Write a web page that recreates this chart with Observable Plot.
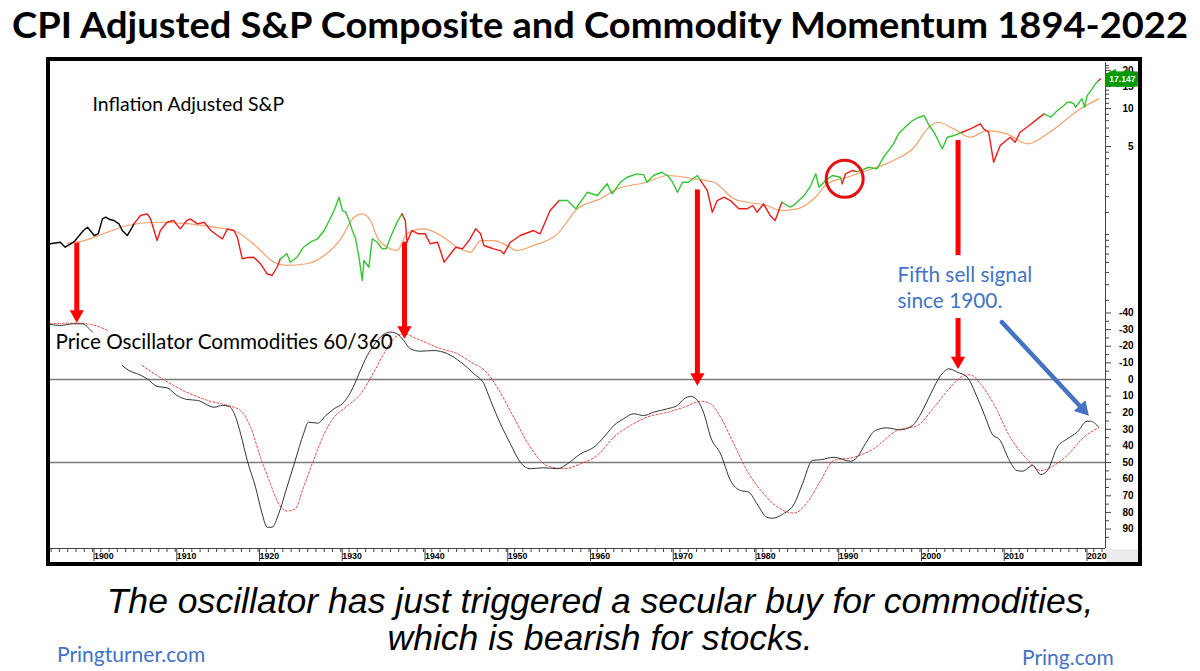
<!DOCTYPE html>
<html>
<head>
<meta charset="utf-8">
<script src="https://cdn.jsdelivr.net/npm/d3@7"></script>
<script src="https://cdn.jsdelivr.net/npm/@observablehq/plot@0.6"></script>
<style>
  html, body { margin: 0; padding: 0; background: #fff; }
  #page { position: relative; width: 1200px; height: 671px; overflow: hidden; background: #fff; }
  .abs { position: absolute; }
  #frame { position: absolute; left: 46px; top: 57px; width: 1096px; height: 509px; border: 4px solid #000; box-sizing: border-box; z-index: 5; pointer-events: none; }
  #corner { position: absolute; left: 1106px; top: 549px; width: 32px; height: 13px; background: #ececec; z-index: 0; }
  #caption { position: absolute; left: 0; top: 583px; width: 1200px; text-align: center; font-family: "Liberation Sans", Arial, sans-serif; font-style: italic; font-size: 35.6px; line-height: 37px; color: #000; }
  .site { position: absolute; font-family: Lato, "Open Sans", sans-serif; font-size: 21px; color: #4472c4; line-height: 24px; }
</style>
</head>
<body>
<div id="page">
  <svg class="abs" style="left:0;top:0" width="1200" height="56">
    <text x="600" y="38" text-anchor="middle" textLength="1176" lengthAdjust="spacingAndGlyphs"
      style="font-family: Lato, 'Open Sans', sans-serif; font-weight: 700; font-size: 36px; fill: #000;">CPI Adjusted S&amp;P Composite and Commodity Momentum 1894-2022</text>
  </svg>
  <div id="corner"></div>
  <div id="topPanel" class="abs" style="left:0;top:60px;z-index:1"></div>
  <div id="bottomPanel" class="abs" style="left:0;top:305px;z-index:1"></div>
  <div id="frame"></div>
  <div id="caption">The oscillator has just triggered a secular buy for commodities,<br>which is bearish for stocks.</div>
  <div class="site" style="left:57px;top:642px">Pringturner.com</div>
  <div class="site" style="left:1022px;top:645px">Pring.com</div>
</div>
<script>
// ---------- Data ----------
// Inflation adjusted S&P composite (log scale values)
const spYear = [1894.9,1896.1,1896.7,1897.7,1897.9,1898.9,1899.4,1900.2,1900.7,1901.2,1901.6,1902.1,1902.6,1903.2,1903.6,1904.2,1904.8,1905.0,
1905.8,1906.6,1907.0,1907.8,1908.2,1909.0,1909.8,1910.6,1911.4,1911.8,1912.7,1913.5,1914.3,1915.1,1915.7,1916.3,1917.1,1917.5,1918.1,1918.7,1919.5,1920.3,1921.1,1921.7,1922.3,1922.7,
1923.5,1923.9,1924.7,1925.5,1926.3,1927.2,1928.0,1928.8,1929.2,1929.8,1930.2,1930.6,1931.0,1931.4,1931.8,1932.2,1932.6,1932.8,1933.4,1933.8,1934.4,1935.0,1935.5,1936.0,1936.8,1937.4,
1937.8,1938.0,1938.6,1939.4,1940.2,1940.8,1941.7,1942.5,1943.1,1943.9,1944.7,1945.5,1946.3,1946.9,1947.3,1947.9,1948.5,1949.3,1949.7,1950.5,1951.7,1953.3,1954.1,1955.3,1956.4,
1957.4,1958.4,1959.8,1961.0,1962.2,1962.8,1963.8,1964.6,1965.8,1966.6,1967.0,1967.8,1968.8,1969.5,1970.1,1970.7,1971.3,1972.0,1973.1,1973.5,
1974.3,1974.9,1975.5,1976.3,1977.1,1978.1,1979.1,1979.8,1980.3,1981.1,1981.9,1982.5,1983.3,
1984.3,1984.7,1986.0,1986.8,1987.4,1987.8,1988.6,1989.4,1990.4,1990.6,
1991.0,1991.8,1992.4,
1992.8,1993.8,1994.8,1995.6,1996.8,1997.4,1998.2,1999.1,1999.9,2000.5,2001.1,2001.7,2002.7,2003.3,2004.1,2005.1,
2006.1,2007.3,2007.7,2008.3,2008.9,2009.7,2010.9,2011.5,2012.1,2013.2,2014.2,2015.0,
2015.8,2016.6,2017.4,2017.8,2018.2,2018.6,2018.8,2019.4,2019.6,2019.9,2020.2,2020.8,2021.2,2021.6,2021.8];
const spValue = [0.844,0.869,0.793,0.869,0.896,1.076,1.143,0.982,1.018,1.332,1.372,1.315,1.291,1.216,1.076,0.982,1.143,1.216,
1.415,1.460,1.340,0.896,1.076,1.252,1.291,1.110,1.291,1.332,1.216,1.252,1.076,0.982,0.925,1.110,1.076,0.952,0.641,0.657,0.660,0.586,0.488,0.473,0.550,0.641,
0.703,0.603,0.660,0.793,0.869,0.925,1.076,1.372,1.551,1.977,1.551,1.503,1.291,1.076,0.925,0.660,0.431,0.622,0.550,0.925,0.869,0.770,0.774,0.952,1.252,1.460,
1.291,0.869,1.076,1.013,1.013,0.844,0.869,0.603,0.681,0.793,0.770,0.896,1.110,1.013,0.818,0.793,0.770,0.746,0.703,0.869,0.982,1.076,1.013,1.551,1.862,
1.862,1.600,2.167,2.040,2.526,2.104,2.602,2.850,3.032,2.99,2.602,2.94,3.122,2.94,2.602,2.167,2.602,2.602,2.94,2.683,
2.234,1.503,1.862,1.977,1.862,1.600,1.600,1.70,1.503,1.753,1.415,1.291,1.805,
1.647,1.70,2.040,2.448,3.032,2.374,2.683,2.94,2.85,2.526,
3.032,3.22,3.16,
3.22,3.42,3.322,4.108,5.246,6.297,7.106,8.03,8.53,8.80,7.33,6.486,4.788,5.919,6.107,6.486,
6.902,7.561,6.902,6.486,3.748,5.085,5.919,5.40,6.486,7.33,8.285,9.08,
8.53,9.64,10.56,11.22,11.22,10.9,10.24,11.57,11.94,10.24,12.68,14.33,15.70,16.67,17.147];

// Trend colouring of the S&P line: segment start/end years and state
const trendStart = [1894.9,1905.0,1922.7,1937.4,1956.4,1973.5,1983.3,1990.6,1992.4,2005.1,2015.0,2021.6];
const trendEnd   = [1905.0,1922.7,1937.4,1956.4,1973.5,1983.3,1990.6,1992.4,2005.1,2015.0,2021.6,2021.8];
const trendState = ["none","down","up","down","up","down","up","down","up","down","up","down"];

// Long-term moving average of the S&P
const maYear = [1897.0,1898.2,1901.8,1904.2,1907.8,1911.8,1914.7,1917.5,1919.9,1921.9,1923.5,1925.9,1928.0,1930.0,1931.6,1932.6,1933.6,1934.4,1935.6,1936.8,1938.0,1940.0,1942.1,1944.1,1945.7,1946.9,1948.5,1950.1,1951.3,1953.3,1956.2,1958.6,1961.4,1963.4,1967.0,1969.5,1972.7,1975.1,1977.5,1979.1,1981.5,1983.1,1985.2,1987.2,1988.8,1991.2,1993.6,1996.8,1999.3,2000.9,2002.1,2004.1,2006.1,2008.1,2010.5,2013.0,2015.4,2019.4,2021.6];
const maValue = [0.85,0.869,1.043,1.179,1.252,1.216,1.143,1.043,0.793,0.603,0.568,0.586,0.681,0.925,1.372,1.460,1.291,0.952,0.793,0.746,1.013,1.110,0.982,0.793,0.724,0.896,0.896,0.818,0.746,0.818,1.013,1.600,1.920,2.305,2.602,2.94,2.767,2.602,1.920,1.805,1.70,1.551,1.600,1.931,2.526,2.85,3.22,3.867,4.93,6.902,7.785,6.902,5.919,6.69,6.297,5.246,6.297,9.95,11.94];

// Commodity price oscillator 60/360 (null = gap in the series)
const oscYear = [1894.9,1896.1,1897.7,1898.8,1899.6,1900.0,1901.8,
1903.6,1904.4,1905.6,1906.6,1907.8,1909.0,1910.2,1911.4,1912.7,1914.7,1915.7,1916.5,1917.3,1917.9,1918.7,1919.7,1920.5,1921.1,1921.7,1922.5,1923.5,1924.5,1925.5,1926.1,1927.2,1928.2,1929.2,1930.2,1931.2,1932.2,1933.2,1934.0,1934.8,1936.0,1936.8,1937.6,1938.4,1939.6,1941.2,1942.9,1944.5,1946.1,1947.3,1948.1,1949.3,1950.5,1951.7,1952.9,1954.5,1956.2,1957.4,1959.0,1960.6,1961.8,1963.0,1964.2,1965.4,1966.6,1967.8,1969.5,1970.7,1971.5,1972.3,1973.1,1973.9,1974.7,1975.9,1977.1,1978.3,1979.3,1980.3,1981.5,1982.1,1983.5,1984.8,1985.8,1987.0,1988.0,1989.6,1991.6,1992.4,1993.4,1994.6,1996.0,1997.6,1999.1,2000.1,2001.3,2002.5,2003.5,2004.5,2005.7,2006.9,2007.9,2008.7,2009.7,2010.7,2011.7,2012.4,2013.6,2014.6,2015.4,2016.6,2017.8,2019.0,2020.2,2020.6,2021.6];
const oscValue = [-33.1,-32.5,-33.5,-33.5,-30.5,-28.5,null,
-8.4,-5.4,-3.0,-0.4,4.2,5.0,9.6,12.0,12.6,16.7,15.6,16.2,22.7,32.7,48.7,64.8,80.8,88.9,88.9,80.8,64.8,48.7,32.7,25.7,26.3,21.7,17.6,14.6,7.6,-3.4,-14.4,-20.5,-25.5,-28.5,-27.5,-23.5,-18.5,-17.0,-17.4,-15.5,-10.4,-3.4,2.6,12.6,26.7,38.7,49.8,53.7,53.1,53.7,50.7,44.7,40.7,34.7,27.7,23.6,20.6,21.7,19.7,17.6,15.6,11.6,10.2,12.6,20.6,34.7,44.7,60.8,66.8,67.8,74.8,82.9,83.5,80.8,74.8,62.8,48.7,48.3,46.8,49.2,46.8,38.7,30.7,29.1,30.3,27.7,20.6,8.6,-2.4,-6.4,-4.4,-1.4,10.6,22.7,32.7,36.7,47.7,54.8,55.2,51.7,57.2,54.8,40.7,35.7,31.7,25.1,25.1,28.7];

// Oscillator signal line (dotted red)
const sigYear = [1894.9,1897.7,1899.8,1901.8,1903.0,
1906.0,1907.8,1909.8,1911.8,1913.9,1916.3,1917.9,1919.1,1920.3,1921.5,1922.5,1923.5,1924.5,1925.5,1926.7,1928.0,1929.2,1930.6,1932.4,1934.0,1935.2,1936.4,1937.6,1939.2,1942.1,1944.1,1946.1,1946.9,1948.1,1948.9,1950.9,1952.9,1954.9,1957.0,1959.0,1961.0,1963.0,1965.0,1967.0,1969.5,1971.5,1973.5,1974.7,1975.9,1977.5,1979.1,1981.1,1983.1,1984.8,1986.4,1988.0,1989.6,1992.0,1994.4,1997.2,1999.7,2001.7,2003.7,2005.1,2006.1,2007.3,2008.9,2010.9,2012.9,2014.6,2016.2,2017.8,2019.8,2021.6];
const sigValue = [-33.5,-33.9,-33.1,-29.5,null,
-8.4,-2.4,3.6,8.6,12.6,15.6,18.7,28.7,46.8,62.8,74.8,79.2,77.8,64.8,48.7,32.7,22.7,16.7,8.6,-4.4,-15.5,-24.5,-27.5,-24.5,-18.5,-15.5,-9.4,-7.4,-1.4,4.6,22.7,40.7,51.7,53.7,50.7,45.7,34.7,27.7,22.7,19.7,16.7,13.1,14.6,22.7,38.7,54.8,68.8,77.8,80.4,73.8,60.8,48.7,46.8,41.7,30.7,27.7,16.7,4.6,-1.8,-2.8,2.6,14.6,34.7,47.7,54.8,51.7,45.7,34.7,29.1];

// Reference levels on the oscillator
const oscLevels = [0, 50];

// Sell-signal arrows: year, S&P value at the top, oscillator value at the tip
const arrowYear = [1898.1, 1937.7, 1973.1, 2004.6];
const arrowPriceTop = [0.87, 0.87, 2.26, 5.57];
const arrowPriceBreak = [null, null, null, 0.68];   // arrow interrupted by the note
const arrowOscResume = [null, null, null, -36.7];
const arrowOscTip = [-34.3, -24.7, 3.6, -6.4];

// Circled area and blue pointer
const circleYear = [1990.9];
const circleValue = [2.77];
const pointerFrom = {year: 2009.9, osc: -34.5};
const pointerTo = {year: 2020.4, osc: 21.7};

// Axis ticks
const decadeTicks = [1900,1910,1920,1930,1940,1950,1960,1970,1980,1990,2000,2010,2020];
const yearTicks = d3.range(1895, 2023);
const spTicks = [5, 10, 15, 20];
const spMinorTicks = [0.3,0.4,0.5,0.6,0.7,0.8,0.9,1,1.5,2,2.5,3,3.5,4,4.5,6,7,8,9,11,12,13,14,16,17,18,19,21,22];
const oscTicks = [-40,-30,-20,-10,0,10,20,30,40,50,60,70,80,90];
const oscMinorTicks = [-35,-25,-15,-5,5,15,25,35,45,55,65,75,85,95];

// Scale domains (chart extent)
const X_DOMAIN = [1894.68, 2022.42];
const SP_DOMAIN = [0.2733, 23.2];
const OSC_DOMAIN = [101.7, -44.5];

// ---------- Build tables ----------
const spRows = [];
trendStart.forEach((s, i) => {
  spYear.forEach((y, j) => {
    if (y >= s - 1e-9 && y <= trendEnd[i] + 1e-9) spRows.push({year: y, value: spValue[j], seg: i, trend: trendState[i]});
  });
});
const maRows = maYear.map((y, i) => ({year: y, value: maValue[i]}));
const oscRows = oscYear.map((y, i) => ({year: y, value: oscValue[i]}));
const sigRows = sigYear.map((y, i) => ({year: y, value: sigValue[i]}));
const arrows = arrowYear.map((y, i) => ({
  year: y,
  priceTop: arrowPriceTop[i],
  priceBottom: arrowPriceBreak[i] ?? SP_DOMAIN[0],
  oscStart: arrowOscResume[i] ?? OSC_DOMAIN[1],
  tip: arrowOscTip[i]
}));
const circleRows = circleYear.map((y, i) => ({year: y, value: circleValue[i]}));
const lastPoint = [{year: spYear[spYear.length - 1], value: spValue[spValue.length - 1]}];

const RED = "#ff0000";
const BLUE = "#4472c4";
const LABEL_FONT = "Lato, 'Open Sans', sans-serif";
const common = {
  width: 1200, marginLeft: 48, marginRight: 95,
  style: {background: "none", overflow: "visible", fontFamily: "'Liberation Sans', Arial, sans-serif", fontSize: "10px", color: "#000"}
};

// ---------- Top panel ----------
const topChart = Plot.plot({
  ...common,
  height: 245, marginTop: 2, marginBottom: 0,
  x: {domain: X_DOMAIN, axis: null},
  y: {type: "log", domain: SP_DOMAIN, axis: null},
  color: {domain: ["none", "down", "up"], range: ["#000000", "#ea1c1c", "#33c533"]},
  marks: [
    Plot.ruleX([X_DOMAIN[1]], {stroke: "#444", strokeWidth: 1}),
    Plot.axisY({anchor: "right", ticks: spMinorTicks, tickSize: 3, tickFormat: () => "", stroke: "#444"}),
    Plot.axisY({anchor: "right", ticks: spTicks, tickSize: 5, tickPadding: 23, textAnchor: "end", fontWeight: "bold", fontSize: 10, tickFormat: d => String(d), stroke: "#444"}),
    Plot.ruleX(arrows, {x: "year", y1: "priceTop", y2: "priceBottom", stroke: RED, strokeWidth: 5}),
    Plot.line(maRows, {x: "year", y: "value", stroke: "#f4a06a", strokeWidth: 1.2, curve: "monotone-x"}),
    Plot.line(spRows, {x: "year", y: "value", z: "seg", stroke: "trend", strokeWidth: 1.4}),
    Plot.dot(circleRows, {x: "year", y: "value", r: 18.5, stroke: "#e41010", strokeWidth: 3, fill: "none"}),
    Plot.text(lastPoint, {x: "year", y: "value", text: d => d.value.toFixed(3), dx: 22, dy: 0, fill: "#fff", stroke: "#009a00", strokeWidth: 9, strokeLinejoin: "miter", fontSize: 8.5, fontWeight: "bold"}),
    Plot.text(["Inflation Adjusted S&P"], {frameAnchor: "top-left", dx: 44, dy: 35, textAnchor: "start", fontFamily: LABEL_FONT, fontSize: 19.4, fill: "#000"}),
    Plot.text(["Fifth sell signal\nsince 1900."], {frameAnchor: "top-left", dx: 849, dy: 201, textAnchor: "start", lineHeight: 1.25, fontFamily: LABEL_FONT, fontSize: 20.8, fill: BLUE})
  ]
});
document.getElementById("topPanel").appendChild(topChart);

// ---------- Bottom panel ----------
const bottomChart = Plot.plot({
  ...common,
  height: 260, marginTop: 0, marginBottom: 17,
  x: {domain: X_DOMAIN},
  y: {domain: OSC_DOMAIN},
  marks: [
    Plot.ruleX([X_DOMAIN[1]], {stroke: "#444", strokeWidth: 1}),
    Plot.ruleY([OSC_DOMAIN[0]], {stroke: "#444", strokeWidth: 1}),
    Plot.ruleY(oscLevels, {stroke: "#7a7a7a", strokeWidth: 1.4}),
    Plot.axisX({ticks: yearTicks, tickSize: 4, tickFormat: () => "", stroke: "#444"}),
    Plot.axisX({ticks: decadeTicks, tickSize: 13, tickPadding: -9, textAnchor: "start", dx: 1.5, fontWeight: "bold", fontSize: 8.8, tickFormat: d => String(d), stroke: "#444"}),
    Plot.axisY({anchor: "right", ticks: oscMinorTicks, tickSize: 3, tickFormat: () => "", stroke: "#444"}),
    Plot.axisY({anchor: "right", ticks: oscTicks, tickSize: 5, tickPadding: 23, textAnchor: "end", fontWeight: "bold", fontSize: 10, tickFormat: d => String(d), stroke: "#444"}),
    Plot.line(sigRows, {x: "year", y: "value", stroke: "#e8453c", strokeWidth: 1, strokeDasharray: "2,2", curve: "monotone-x"}),
    Plot.line(oscRows, {x: "year", y: "value", stroke: "#333", strokeWidth: 1, curve: "monotone-x"}),
    Plot.ruleX(arrows, {x: "year", y1: "oscStart", y2: "tip", insetBottom: 10, stroke: RED, strokeWidth: 5}),
    Plot.dot(arrows, {x: "year", y: "tip", symbol: "triangle", rotate: 180, r: 5.3, fill: RED, dy: -8}),
    Plot.arrow([{x1: pointerFrom.year, y1: pointerFrom.osc, x2: pointerTo.year, y2: pointerTo.osc}], {x1: "x1", y1: "y1", x2: "x2", y2: "y2", stroke: BLUE, strokeWidth: 4.5, headLength: 0, insetEnd: 11}),
    Plot.dot([pointerTo], {x: "year", y: "osc", symbol: "triangle", rotate: 137, r: 5.9, fill: BLUE, dx: -6.1, dy: -6.6}),
    Plot.text(["Price Oscillator Commodities 60/360"], {frameAnchor: "top-left", dx: 7, dy: 29, textAnchor: "start", fontFamily: LABEL_FONT, fontSize: 20.7, fill: "#000"})
  ]
});
document.getElementById("bottomPanel").appendChild(bottomChart);
</script>
</body>
</html>
